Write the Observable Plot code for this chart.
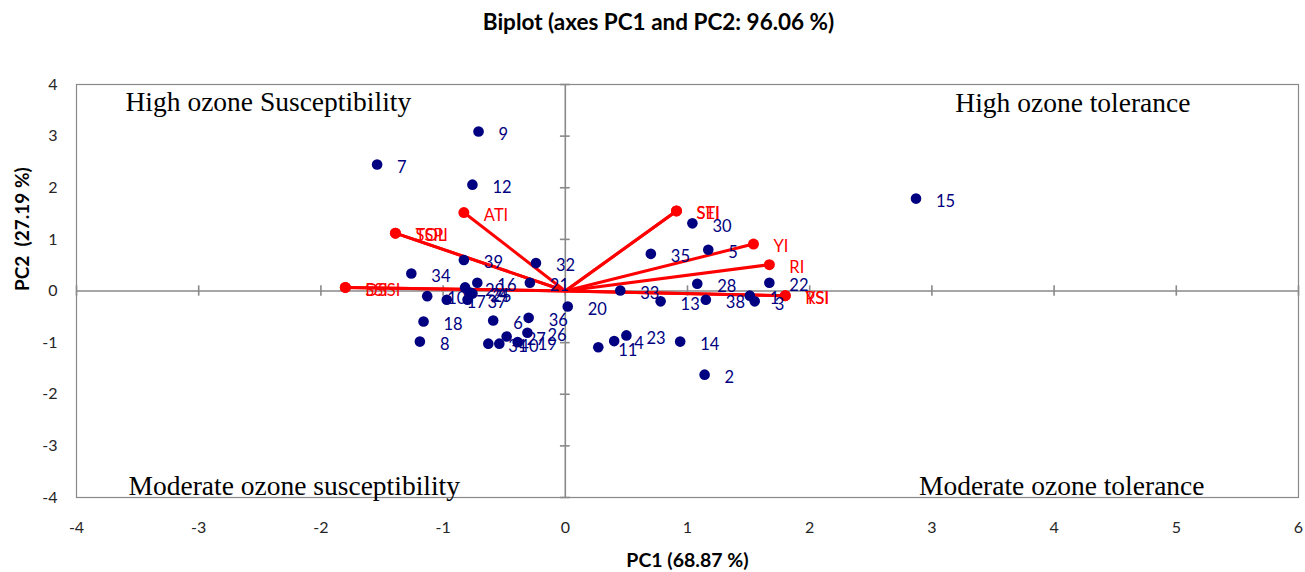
<!DOCTYPE html>
<html>
<head>
<meta charset="utf-8">
<script src="https://cdn.jsdelivr.net/npm/d3@7"></script>
<script src="https://cdn.jsdelivr.net/npm/@observablehq/plot@0.6"></script>
<style>
  html, body { margin: 0; padding: 0; background: #fff; }
  #chart svg { display: block; }
</style>
</head>
<body>
<div id="chart"></div>
<script>
// Genotype (observation) scores
const genotypes = ["1","2","3","4","5","6","7","8","9","10","11","12","13","14","15","16","17","18","19","20",
                   "21","22","23","24","25","26","27","28","29","30","31","32","33","34","35","36","37","38","39","40"];
const pc1 = [1.51, 1.14, 1.55, 0.40, 1.17, -0.59, -1.54, -1.19, -0.71, -1.13,
             0.27, -0.76, 0.78, 0.94, 2.87, -0.72, -0.97, -1.16, -0.39, 0.02,
             -0.29, 1.67, 0.50, -0.78, -0.76, -0.31, -0.48, 1.08, -0.82, 1.04,
             -0.63, -0.24, 0.45, -1.26, 0.70, -0.30, -0.80, 1.15, -0.83, -0.54];
const pc2 = [-0.09, -1.62, -0.20, -0.97, 0.80, -0.57, 2.45, -0.98, 3.09, -0.10,
             -1.09, 2.06, -0.20, -0.98, 1.79, 0.16, -0.17, -0.59, -0.99, -0.30,
             0.16, 0.16, -0.86, -0.03, -0.05, -0.81, -0.88, 0.14, 0.07, 1.31,
             -1.02, 0.54, 0.01, 0.34, 0.72, -0.52, -0.17, -0.17, 0.60, -1.02];

// Variable (index) loadings
const indices = ["ATI", "TOL", "SSPI", "SSI", "DSSI", "STI", "SEI", "YI", "RI", "YSI", "RSI"];
const ix = [-0.83, -1.39, -1.39, -1.80, -1.80, 0.91, 0.91, 1.54, 1.67, 1.80, 1.80];
const iy = [1.52, 1.12, 1.12, 0.07, 0.07, 1.55, 1.55, 0.91, 0.51, -0.09, -0.09];

// Axis ticks
const xTicks = [-4, -3, -2, -1, 0, 1, 2, 3, 4, 5, 6];
const yTicks = [-4, -3, -2, -1, 0, 1, 2, 3, 4];

// Texts
const chartTitle = "Biplot (axes PC1 and PC2: 96.06 %)";
const xTitle = "PC1 (68.87 %)";
const yTitle = "PC2  (27.19 %)";
const quadrantTexts = ["High ozone Susceptibility", "High ozone tolerance", "Moderate ozone susceptibility", "Moderate ozone tolerance"];

const obs = genotypes.map((g, i) => ({g, x: pc1[i], y: pc2[i]}));
const vars = indices.map((n, i) => ({n, x: ix[i], y: iy[i]}));

const NAVY = "#000080";
const RED = "#FF0000";
const GRAY = "#898989";
const TICK = "#262626";
const SANS = "Lato, 'Open Sans', sans-serif";
const SERIF = "'Liberation Serif', 'DejaVu Serif', serif";
const Q = {fontSize: 27.5, fontFamily: SERIF, fill: "#000", lineAnchor: "middle"};

const plot = Plot.plot({
  width: 1305,
  height: 572,
  marginLeft: 76,
  marginRight: 7,
  marginTop: 84,
  marginBottom: 75,
  style: {fontFamily: SANS, fontSize: "16px", background: "#fff"},
  x: {domain: [-4, 6], axis: null},
  y: {domain: [-4, 4], axis: null},
  marks: [
    Plot.frame({stroke: GRAY, strokeWidth: 1.2}),
    Plot.ruleY([0], {stroke: GRAY, strokeWidth: 1.6}),
    Plot.ruleX([0], {stroke: GRAY, strokeWidth: 1.6}),
    Plot.ruleX(xTicks, {x: d => d, y1: -0.1, y2: 0.1, stroke: GRAY, strokeWidth: 1.6}),
    Plot.ruleY(yTicks, {y: d => d, x1: -0.04, x2: 0.04, stroke: GRAY, strokeWidth: 1.6}),
    // tick labels at the frame edges
    Plot.text(xTicks, {x: d => d, text: d => String(d), frameAnchor: "bottom", lineAnchor: "middle", dy: 30, fontSize: 16, fill: TICK, fontFamily: SANS}),
    Plot.text(yTicks, {y: d => d, text: d => String(d), frameAnchor: "left", textAnchor: "end", lineAnchor: "middle", dx: -19, fontSize: 16, fill: TICK, fontFamily: SANS}),
    // quadrant annotations
    Plot.text([quadrantTexts[0]], {...Q, frameAnchor: "top-left", text: d => d, textAnchor: "start", dx: 49, dy: 18}),
    Plot.text([quadrantTexts[1]], {...Q, frameAnchor: "top-right", text: d => d, textAnchor: "end", dx: -108, dy: 19}),
    Plot.text([quadrantTexts[2]], {...Q, frameAnchor: "bottom-left", text: d => d, textAnchor: "start", dx: 52, dy: -11}),
    Plot.text([quadrantTexts[3]], {...Q, frameAnchor: "bottom-right", text: d => d, textAnchor: "end", dx: -94, dy: -11}),
    // variable vectors
    Plot.link(vars, {x1: () => 0, y1: () => 0, x2: "x", y2: "y", stroke: RED, strokeWidth: 3}),
    Plot.dot(vars, {x: "x", y: "y", r: 5.5, fill: RED}),
    // observations
    Plot.dot(obs, {x: "x", y: "y", r: 5.3, fill: NAVY}),
    Plot.text(obs, {x: "x", y: "y", text: "g", textAnchor: "start", dx: 20, dy: 3, fill: NAVY, fontSize: 16.5, fontFamily: SANS}),
    Plot.text(vars, {x: "x", y: "y", text: "n", textAnchor: "start", dx: 20, dy: 3, fill: RED, fontSize: 16.5, fontFamily: SANS}),
    // titles
    Plot.text([chartTitle], {frameAnchor: "top", lineAnchor: "middle", text: d => d, dx: -29, dy: -62, fontSize: 22.5, fontWeight: "bold", fill: "#000", fontFamily: SANS}),
    Plot.text([xTitle], {frameAnchor: "bottom", lineAnchor: "middle", text: d => d, dy: 63, fontSize: 19.5, fontWeight: "bold", fill: "#000", fontFamily: SANS}),
    Plot.text([yTitle], {frameAnchor: "left", lineAnchor: "middle", text: d => d, rotate: -90, dx: -54, fontSize: 19, fontWeight: "bold", fill: "#000", fontFamily: SANS})
  ]
});
document.getElementById("chart").appendChild(plot);
</script>
</body>
</html>
